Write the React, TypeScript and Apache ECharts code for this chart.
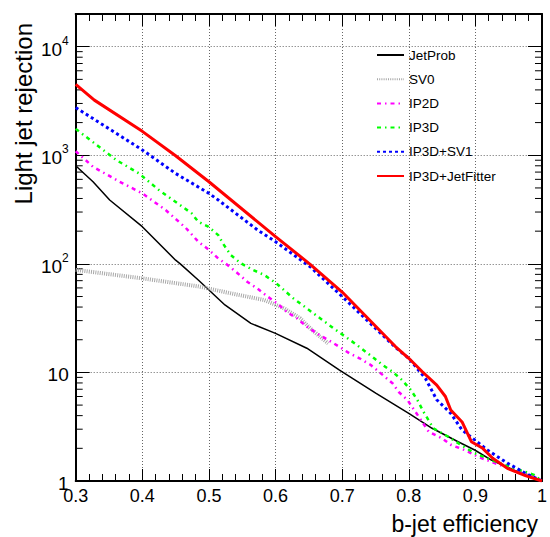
import React, { useEffect, useRef } from "react";
import * as echarts from "echarts";

const FONT = "'Liberation Sans', Arial, Helvetica, sans-serif";

const seriesNames = ["JetProb", "SV0", "IP2D", "IP3D", "IP3D+SV1", "IP3D+JetFitter"];

// [b-jet efficiency, light jet rejection]
const jetProb: number[][] = [
  [0.3, 800], [0.326, 570], [0.351, 387], [0.4, 220], [0.45, 108], [0.457, 100],
  [0.484, 71], [0.524, 41.8], [0.563, 28.3], [0.6, 22.9], [0.647, 16.7], [0.696, 10.5],
  [0.751, 6.42], [0.8, 4.2], [0.835, 3.06], [0.874, 2.3], [0.899, 1.93],
  [0.924, 1.56], [0.958, 1.26], [1.0, 1],
];
const sv0: number[][] = [
  [0.3, 88], [0.4, 73.5], [0.484, 62], [0.533, 53.5], [0.583, 46.4], [0.613, 38.9],
  [0.637, 31.5], [0.652, 25.5], [0.667, 21.3], [0.679, 18.5],
];
const ip2d: number[][] = [
  [0.3, 1090], [0.326, 784], [0.366, 570], [0.4, 446], [0.435, 313], [0.465, 215],
  [0.484, 160], [0.499, 136], [0.514, 112], [0.528, 97.5], [0.543, 82], [0.558, 68],
  [0.573, 59], [0.588, 50], [0.603, 43], [0.617, 36], [0.632, 31.5], [0.647, 26.4],
  [0.662, 22.9], [0.679, 19.9], [0.694, 17.5], [0.711, 15], [0.726, 13.5], [0.743, 11.7],
  [0.758, 9.8], [0.776, 7.9], [0.785, 6.6], [0.798, 5.57], [0.815, 3.91], [0.83, 2.84],
  [0.85, 2.47], [0.864, 2.14], [0.884, 1.93], [0.904, 1.67], [0.929, 1.46], [0.958, 1.26],
  [0.988, 1.1], [1.0, 1],
];
const ip3d: number[][] = [
  [0.3, 1750], [0.361, 903], [0.395, 681], [0.425, 478], [0.474, 292], [0.484, 244],
  [0.499, 220], [0.514, 184], [0.521, 154], [0.533, 120], [0.548, 101], [0.566, 88],
  [0.583, 79], [0.6, 67], [0.627, 48], [0.657, 35], [0.687, 25.5], [0.719, 18.5],
  [0.748, 13.5], [0.761, 11.7], [0.776, 10.1], [0.79, 8.5], [0.803, 6.9], [0.813, 5.57],
  [0.822, 4.35], [0.837, 3.06], [0.859, 2.56], [0.879, 2.14], [0.899, 1.8], [0.924, 1.56],
  [0.958, 1.31], [0.988, 1.14], [1.0, 1],
];
const ip3dSv1: number[][] = [
  [0.3, 2750], [0.4, 1120], [0.45, 680], [0.5, 446], [0.514, 387], [0.573, 205],
  [0.6, 160], [0.652, 94], [0.7, 50], [0.78, 17], [0.8, 13.5], [0.825, 8.8],
  [0.842, 5.6], [0.863, 4.2], [0.88, 2.95], [0.899, 2.39], [0.918, 1.93], [0.948, 1.46],
  [0.975, 1.18], [1.0, 1],
];
const ip3dJetFitter: number[][] = [
  [0.3, 4500], [0.328, 3220], [0.4, 1660], [0.45, 990], [0.5, 570],
  [0.6, 178], [0.652, 99], [0.7, 55], [0.78, 17.3], [0.8, 13.5],
  [0.82, 10.2], [0.842, 7.65], [0.855, 6.0], [0.863, 4.5], [0.88, 3.5], [0.894, 2.3],
  [0.911, 2.0], [0.926, 1.62], [0.948, 1.31], [0.975, 1.12], [1.0, 1],
];

const yMinorTicks: number[] = [
  2, 3, 4, 5, 6, 7, 8, 9,
  20, 30, 40, 50, 60, 70, 80, 90,
  200, 300, 400, 500, 600, 700, 800, 900,
  2000, 3000, 4000, 5000, 6000, 7000, 8000, 9000,
];

const xTitle = "b-jet efficiency";
const yTitle = "Light jet rejection";

export default function App() {
  const ref = useRef<HTMLDivElement>(null);
  useEffect(() => {
    const chart = echarts.init(ref.current!, null, { renderer: "svg" });
    const dotted = { type: [1, 2] as any, color: "#666", width: 1 };
    const yFmt = (v: number) => {
      const l = Math.log10(v);
      const e = Math.round(l);
      if (Math.abs(l - e) > 1e-6) return "";
      if (e === 0) return "{b|1}";
      if (e === 1) return "{b|10}";
      return "{b|10}{s|" + e + "}";
    };
    const baseX = {
      type: "value",
      min: 0.3,
      max: 1.0,
      interval: 0.1,
      axisLine: { show: true, onZero: false, lineStyle: { color: "#000", width: 2 } },
      axisTick: { show: true, inside: true, length: 12, lineStyle: { color: "#000", width: 1 } },
      minorTick: { show: true, splitNumber: 5, length: 7, lineStyle: { color: "#000", width: 1 } },
    };
    const baseY = {
      type: "log",
      logBase: 10,
      min: 1,
      max: 20000,
      axisLine: { show: true, onZero: false, lineStyle: { color: "#000", width: 2 } },
      axisTick: { show: true, inside: true, length: 14, lineStyle: { color: "#000", width: 1 } },
    };
    const lineSeries = (name: string, data: number[][], color: string, width: number, type: any) => ({
      name,
      type: "line",
      data,
      symbol: "none",
      showSymbol: false,
      clip: true,
      lineStyle: { color, width, type },
      itemStyle: { color },
    });
    const option: any = {
      animation: false,
      backgroundColor: "#fff",
      grid: { left: 75.7, right: 2.5, top: 14, bottom: 56 },
      textStyle: { fontFamily: FONT },
      xAxis: [
        {
          ...baseX,
          position: "bottom",
          axisLabel: {
            show: true,
            fontSize: 18,
            color: "#000",
            fontFamily: FONT,
            margin: 6,
            formatter: (v: number) => String(Math.round(v * 10) / 10),
          },
          splitLine: { show: true, lineStyle: dotted },
        },
        {
          ...baseX,
          position: "top",
          axisLabel: { show: false },
          splitLine: { show: false },
        },
      ],
      yAxis: [
        {
          ...baseY,
          position: "left",
          axisLabel: {
            show: true,
            color: "#000",
            margin: 7,
            formatter: yFmt,
            rich: {
              b: { fontSize: 19, fontFamily: FONT, color: "#000", verticalAlign: "bottom", lineHeight: 24 },
              s: { fontSize: 12, fontFamily: FONT, color: "#000", verticalAlign: "top", lineHeight: 12 },
            },
          },
          splitLine: { show: true, lineStyle: dotted },
        },
        {
          ...baseY,
          position: "right",
          axisLabel: { show: false },
          splitLine: { show: false },
        },
      ],
      legend: {
        data: seriesNames,
        orient: "vertical",
        left: 376,
        top: 48,
        padding: 0,
        itemWidth: 27,
        itemHeight: 14,
        itemGap: 10.2,
        itemStyle: { opacity: 0 },
        textStyle: { fontSize: 13.5, color: "#000", fontFamily: FONT },
        selectedMode: false,
      },
      series: [
        {
          type: "custom",
          name: "minorTicks",
          silent: true,
          clip: false,
          xAxisIndex: 0,
          yAxisIndex: 0,
          data: yMinorTicks.map((v) => [0.3, v]),
          renderItem: (params: any, api: any) => {
            const v = api.value(1);
            const l = api.coord([0.3, v]);
            const r = api.coord([1.0, v]);
            const st = { stroke: "#000", lineWidth: 1 };
            return {
              type: "group",
              children: [
                { type: "line", shape: { x1: l[0], y1: l[1], x2: l[0] + 7, y2: l[1] }, style: st },
                { type: "line", shape: { x1: r[0] - 7, y1: r[1], x2: r[0], y2: r[1] }, style: st },
              ],
            };
          },
        },
        lineSeries("JetProb", jetProb, "#000000", 1.5, "solid"),
        lineSeries("SV0", sv0, "#a8a8a8", 4, [1, 1.2]),
        lineSeries("IP2D", ip2d, "#ff00ff", 2.5, [4, 4, 1.5, 4]),
        lineSeries("IP3D", ip3d, "#00ff00", 2.5, [4, 4, 1.5, 4]),
        lineSeries("IP3D+SV1", ip3dSv1, "#0000ff", 3, [3, 3]),
        lineSeries("IP3D+JetFitter", ip3dJetFitter, "#ff0000", 3, "solid"),
      ],
      graphic: [
        {
          type: "text",
          x: 538,
          y: 524,
          style: {
            text: xTitle,
            fontSize: 23,
            fontFamily: FONT,
            fill: "#000",
            align: "right",
            verticalAlign: "middle",
          },
        },
        {
          type: "text",
          x: 23,
          y: 23,
          rotation: Math.PI / 2,
          style: {
            text: yTitle,
            fontSize: 24,
            fontFamily: FONT,
            fill: "#000",
            align: "right",
            verticalAlign: "middle",
          },
        },
      ],
    };
    chart.setOption(option);
    return () => chart.dispose();
  }, []);
  return (
    <div
      ref={ref}
      style={{ position: "absolute", left: 0, top: 0, width: 550, height: 537 }}
    />
  );
}
